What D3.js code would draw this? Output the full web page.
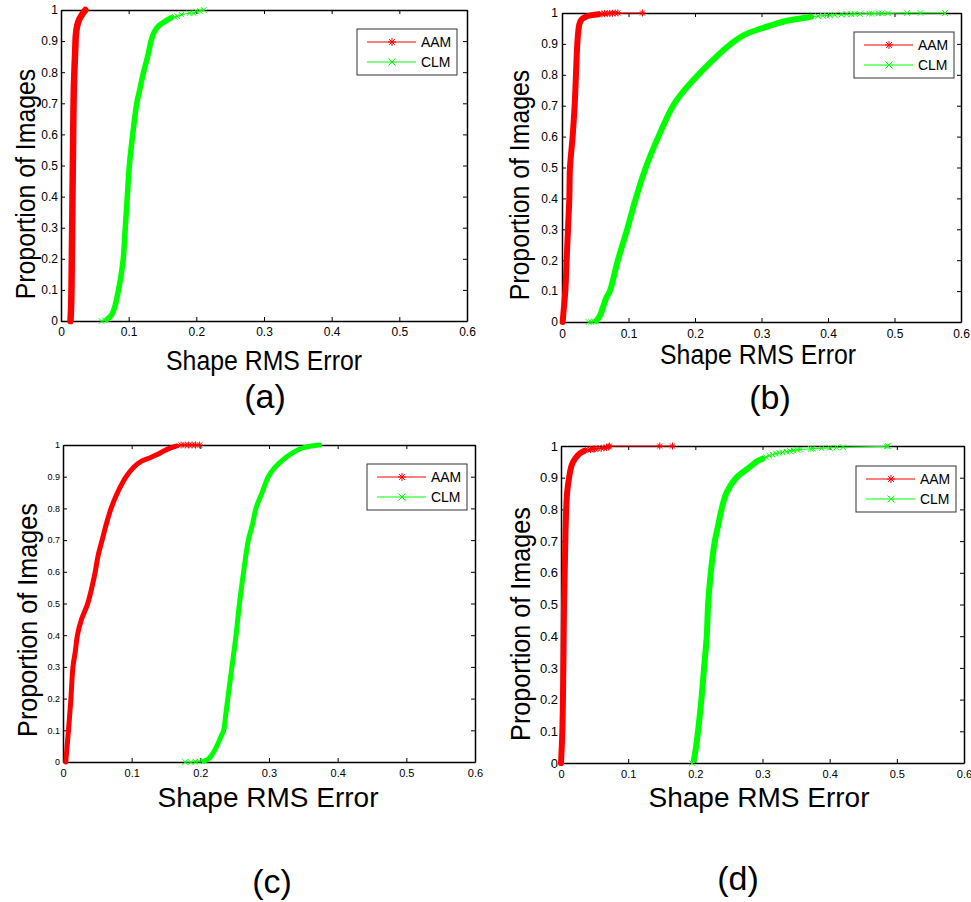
<!DOCTYPE html>
<html>
<head>
<meta charset="utf-8">
<script src="https://cdn.jsdelivr.net/npm/d3@7"></script>
<style>
  body { margin: 0; background: #fff; }
  svg { display: block; }
  text { font-family: "Liberation Sans", Arial, Helvetica, sans-serif; fill: #000; }
</style>
</head>
<body>
<svg id="chart" width="971" height="902"></svg>
<script>
// ---- shared labels and ticks ----
const seriesNames = ["AAM", "CLM"];
const captions = ["(a)", "(b)", "(c)", "(d)"];
const xTitle = "Shape RMS Error";
const yTitle = "Proportion of Images";
const xTicks = [0, 0.1, 0.2, 0.3, 0.4, 0.5, 0.6];
const xTickLabels = ["0", "0.1", "0.2", "0.3", "0.4", "0.5", "0.6"];
const yTicks = [0, 0.1, 0.2, 0.3, 0.4, 0.5, 0.6, 0.7, 0.8, 0.9, 1];
const yTickLabels = ["0", "0.1", "0.2", "0.3", "0.4", "0.5", "0.6", "0.7", "0.8", "0.9", "1"];

// ---- cumulative error curves: [error, proportion] ----
// dense part of each curve (markers merge into a thick band)
const aamA = [[0.014,0],[0.015,0.05],[0.016,0.2],[0.017,0.4],[0.018,0.6],[0.019,0.75],[0.021,0.87],[0.022,0.92],[0.024,0.95],[0.027,0.97],[0.031,0.985],[0.036,1]];
const clmA = [[0.068,0.005],[0.075,0.02],[0.080,0.05],[0.085,0.1],[0.089,0.15],[0.092,0.2],[0.095,0.3],[0.098,0.4],[0.101,0.5],[0.106,0.6],[0.112,0.7],[0.117,0.75],[0.122,0.8],[0.128,0.85],[0.131,0.88],[0.133,0.9],[0.138,0.93],[0.145,0.95],[0.155,0.965],[0.163,0.975]];
const aamB = [[0.001,0],[0.003,0.05],[0.005,0.1],[0.007,0.2],[0.009,0.3],[0.011,0.4],[0.012,0.5],[0.016,0.6],[0.019,0.7],[0.021,0.8],[0.023,0.9],[0.025,0.95],[0.027,0.97],[0.030,0.98],[0.035,0.987],[0.045,0.993],[0.055,0.996]];
const clmB = [[0.052,0.005],[0.057,0.02],[0.062,0.05],[0.067,0.08],[0.072,0.1],[0.084,0.2],[0.098,0.3],[0.111,0.4],[0.126,0.5],[0.145,0.6],[0.167,0.7],[0.184,0.75],[0.205,0.8],[0.228,0.85],[0.254,0.9],[0.275,0.93],[0.300,0.95],[0.330,0.97],[0.352,0.98],[0.375,0.988]];
const aamC = [[0.004,0],[0.006,0.05],[0.008,0.1],[0.0115,0.2],[0.0145,0.3],[0.018,0.35],[0.021,0.4],[0.027,0.45],[0.036,0.5],[0.042,0.55],[0.047,0.6],[0.051,0.65],[0.057,0.7],[0.063,0.75],[0.070,0.8],[0.0795,0.85],[0.092,0.9],[0.103,0.93],[0.115,0.95],[0.127,0.96],[0.137,0.97],[0.146,0.98],[0.156,0.99],[0.166,0.997]];
const clmC = [[0.205,0.003],[0.212,0.01],[0.219,0.03],[0.224,0.05],[0.230,0.08],[0.234,0.1],[0.237,0.15],[0.240,0.2],[0.246,0.3],[0.252,0.4],[0.257,0.5],[0.263,0.6],[0.270,0.7],[0.276,0.75],[0.281,0.8],[0.290,0.85],[0.299,0.9],[0.309,0.93],[0.324,0.96],[0.338,0.98],[0.348,0.99],[0.362,0.997],[0.374,1]];
const aamD = [[0.000,0],[0.002,0.1],[0.0035,0.3],[0.0045,0.5],[0.006,0.65],[0.007,0.75],[0.009,0.85],[0.012,0.9],[0.016,0.94],[0.021,0.96],[0.027,0.975],[0.035,0.985]];
const clmD = [[0.198,0.01],[0.201,0.05],[0.204,0.1],[0.209,0.2],[0.213,0.3],[0.217,0.4],[0.219,0.5],[0.223,0.6],[0.229,0.7],[0.234,0.75],[0.239,0.8],[0.246,0.85],[0.261,0.9],[0.279,0.93],[0.291,0.95],[0.300,0.96]];

// sparse points at the ends of each curve, where single markers stand apart
const aamAMarks = [];
const clmAMarks = [[0.060,0],[0.065,0.002],[0.168,0.978],[0.172,0.98],[0.178,0.985],[0.190,0.99],[0.196,0.99],[0.200,0.995],[0.205,0.997],[0.211,1]];
const aamBMarks = [[0.060,0.997],[0.064,0.998],[0.068,0.998],[0.072,0.999],[0.076,0.999],[0.080,1],[0.084,1],[0.121,1]];
const clmBMarks = [[0.040,0],[0.044,0],[0.048,0.002],[0.385,0.99],[0.392,0.991],[0.398,0.992],[0.403,0.993],[0.410,0.994],[0.420,0.995],[0.428,0.996],[0.435,0.996],[0.440,0.997],[0.448,0.997],[0.462,0.998],[0.466,0.998],[0.476,0.999],[0.481,0.999],[0.490,0.999],[0.519,1],[0.539,1],[0.576,1]];
const aamCMarks = [[0.172,1],[0.178,1],[0.183,1],[0.188,1],[0.193,1],[0.199,1]];
const clmCMarks = [[0.178,0],[0.186,0],[0.193,0.001],[0.198,0.002]];
const aamDMarks = [[0.040,0.988],[0.044,0.989],[0.048,0.99],[0.050,0.991],[0.055,0.992],[0.060,0.993],[0.064,0.994],[0.068,0.995],[0.071,0.997],[0.072,1],[0.147,1],[0.166,1]];
const clmDMarks = [[0.195,0],[0.305,0.965],[0.310,0.97],[0.315,0.973],[0.320,0.976],[0.325,0.978],[0.330,0.98],[0.336,0.982],[0.341,0.984],[0.346,0.986],[0.352,0.988],[0.356,0.989],[0.372,0.991],[0.375,0.992],[0.388,0.993],[0.400,0.994],[0.410,0.995],[0.420,0.996],[0.485,0.999],[0.487,1]];

const colors = { AAM: "#ff0000", CLM: "#00ff00" };

// ---- panel layout ----
const panels = [
  { caption: captions[0], l: 61, r: 467, t: 10, b: 321,
    aam: aamA, aamMarks: aamAMarks, clm: clmA, clmMarks: clmAMarks,
    xTickSize: 12, yTickSize: 12, xPad: 6, yPad: 3,
    yLab: [35, 184], xLab: [264, 370], capPos: [265, 408], titleSize: 27, titleSx: 0.92, yTitleSx: 0.92,
    legend: [357, 29], bandA: 6.5, bandC: 5.5 },
  { caption: captions[1], l: 562, r: 961, t: 13, b: 322,
    aam: aamB, aamMarks: aamBMarks, clm: clmB, clmMarks: clmBMarks,
    xTickSize: 12, yTickSize: 12, xPad: 7, yPad: 4,
    yLab: [529, 185], xLab: [758, 364], capPos: [770, 409], titleSize: 27, titleSx: 0.92, yTitleSx: 0.92,
    legend: [854, 32], bandA: 6, bandC: 6 },
  { caption: captions[2], l: 63, r: 475, t: 445, b: 762,
    aam: aamC, aamMarks: aamCMarks, clm: clmC, clmMarks: clmCMarks,
    xTickSize: 11, yTickSize: 9, xPad: 7, yPad: 3,
    yLab: [37, 620], xLab: [268, 807], capPos: [272, 893], titleSize: 28, titleSx: 1.0, yTitleSx: 0.9,
    legend: [367, 464], bandA: 5, bandC: 5 },
  { caption: captions[3], l: 561, r: 964, t: 446, b: 763,
    aam: aamD, aamMarks: aamDMarks, clm: clmD, clmMarks: clmDMarks,
    xTickSize: 11, yTickSize: 13, xPad: 7, yPad: 3,
    yLab: [530, 624], xLab: [759, 807], capPos: [738, 890], titleSize: 28, titleSx: 1.0, yTitleSx: 0.9,
    legend: [856, 466], bandA: 6, bandC: 6 }
];

const svg = d3.select("#chart");

function label(g, txt, x, y, size, sx, rotate) {
  g.append("text")
    .attr("transform", `translate(${x},${y})${rotate ? " rotate(-90)" : ""} scale(${sx},1)`)
    .attr("text-anchor", "middle")
    .style("font-size", size + "px")
    .text(txt);
}

// asterisk marker (AAM) and cross marker (CLM)
function starPath(cx, cy, s) {
  const d = s * 0.72;
  return `M${cx - s},${cy}H${cx + s}M${cx},${cy - s}V${cy + s}` +
         `M${cx - d},${cy - d}L${cx + d},${cy + d}M${cx - d},${cy + d}L${cx + d},${cy - d}`;
}
function crossPath(cx, cy, s) {
  return `M${cx - s},${cy - s}L${cx + s},${cy + s}M${cx - s},${cy + s}L${cx + s},${cy - s}`;
}

function drawAxisStyle(sel, size) {
  sel.select(".domain").attr("stroke", "#000").attr("stroke-width", 1.5);
  sel.selectAll(".tick line").attr("stroke", "#000").attr("stroke-width", 1);
  sel.selectAll(".tick text")
    .style("font-family", '"Liberation Sans", Arial, sans-serif')
    .style("font-size", size + "px")
    .attr("fill", "#111");
}

panels.forEach(p => {
  const g = svg.append("g");
  const x = d3.scaleLinear().domain([0, 0.6]).range([p.l, p.r]);
  const y = d3.scaleLinear().domain([0, 1]).range([p.b, p.t]);

  // frame with inward ticks on all four sides
  g.append("g").attr("transform", `translate(0,${p.b})`)
    .call(d3.axisBottom(x).tickValues(xTicks).tickSizeInner(-4).tickSizeOuter(0)
      .tickPadding(p.xPad).tickFormat((d, i) => xTickLabels[i]))
    .call(s => drawAxisStyle(s, p.xTickSize));
  g.append("g").attr("transform", `translate(0,${p.t})`)
    .call(d3.axisTop(x).tickValues(xTicks).tickSizeInner(-4).tickSizeOuter(0).tickFormat(""))
    .call(s => drawAxisStyle(s, p.xTickSize));
  g.append("g").attr("transform", `translate(${p.l},0)`)
    .call(d3.axisLeft(y).tickValues(yTicks).tickSizeInner(-4).tickSizeOuter(0)
      .tickPadding(p.yPad).tickFormat((d, i) => yTickLabels[i]))
    .call(s => drawAxisStyle(s, p.yTickSize));
  g.append("g").attr("transform", `translate(${p.r},0)`)
    .call(d3.axisRight(y).tickValues(yTicks).tickSizeInner(-4).tickSizeOuter(0).tickFormat(""))
    .call(s => drawAxisStyle(s, p.yTickSize));

  // curves: thin connecting line, smoothed thick band, then stand-alone markers
  const thin = d3.line().x(d => x(d[0])).y(d => y(d[1]));
  const band = d3.line().x(d => x(d[0])).y(d => y(d[1])).curve(d3.curveCatmullRom.alpha(0.5));
  const series = [
    { name: "AAM", dense: p.aam, marks: p.aamMarks, width: p.bandA, marker: starPath, ms: 3.5 },
    { name: "CLM", dense: p.clm, marks: p.clmMarks, width: p.bandC, marker: crossPath, ms: 2.8 }
  ];
  series.forEach(s => {
    const all = s.dense.concat(s.marks).sort((a, b) => a[0] - b[0] || a[1] - b[1]);
    g.append("path").attr("d", thin(all))
      .attr("fill", "none").attr("stroke", colors[s.name]).attr("stroke-width", 1);
    g.append("path").attr("d", band(s.dense))
      .attr("fill", "none").attr("stroke", colors[s.name]).attr("stroke-width", s.width)
      .attr("stroke-linejoin", "round").attr("stroke-linecap", "round");
    g.append("path")
      .attr("d", s.marks.map(d => s.marker(x(d[0]), y(d[1]), s.ms)).join(""))
      .attr("fill", "none").attr("stroke", colors[s.name]).attr("stroke-width", 1);
  });

  // legend
  const [lx, ly] = p.legend;
  const lg = g.append("g").attr("transform", `translate(${lx},${ly})`);
  lg.append("rect").attr("x", 0).attr("y", 0).attr("width", 100).attr("height", 46)
    .attr("fill", "#fff").attr("stroke", "#333").attr("stroke-width", 1);
  seriesNames.forEach((name, i) => {
    const yy = 13 + i * 20;
    lg.append("line").attr("x1", 10).attr("x2", 59).attr("y1", yy).attr("y2", yy)
      .attr("stroke", colors[name]).attr("stroke-width", 1);
    lg.append("path")
      .attr("d", i === 0 ? starPath(35, yy, 4) : crossPath(35, yy, 3.5))
      .attr("fill", "none").attr("stroke", colors[name]).attr("stroke-width", 1);
    lg.append("text")
      .attr("transform", `translate(64,${yy + 5}) scale(0.9,1)`)
      .style("font-size", "15.5px").text(name);
  });

  // titles
  label(g, yTitle, p.yLab[0], p.yLab[1], p.titleSize, p.yTitleSx, true);
  label(g, xTitle, p.xLab[0], p.xLab[1], p.titleSize, p.titleSx, false);
  label(g, p.caption, p.capPos[0], p.capPos[1], 34, 1, false);
});
</script>
</body>
</html>
